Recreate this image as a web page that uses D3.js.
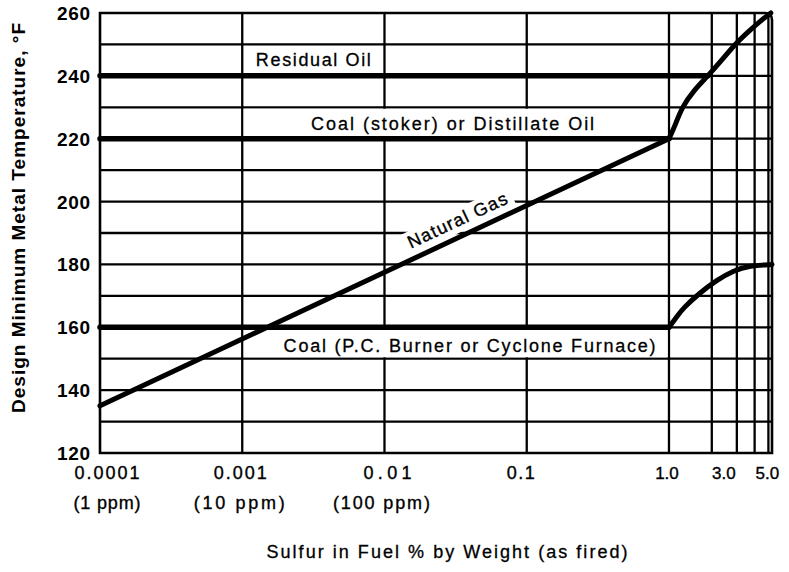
<!DOCTYPE html>
<html>
<head>
<meta charset="utf-8">
<script src="https://cdn.jsdelivr.net/npm/d3@7"></script>
<style>
  html, body { margin: 0; padding: 0; background: #fff; }
  svg { display: block; font-family: "Liberation Sans", Arial, Helvetica, sans-serif; }
</style>
</head>
<body>
<svg id="chart" width="789" height="572"></svg>
<script>
// Sulfur content (% by weight) on a log axis, design temperature in °F
const xMajorTicks = [0.0001, 0.001, 0.01, 0.1, 1.0, 3.0, 5.0];
const xMajorLabels = ["0.0001", "0.001", "0.01", "0.1", "1.0", "3.0", "5.0"];
const ppmTicks = [0.0001, 0.001, 0.01];
const ppmLabels = ["(1 ppm)", "(10 ppm)", "(100 ppm)"];
const xGridValues = [0.001, 0.01, 0.1, 1, 2, 3, 4, 5];
const yLabelTicks = [120, 140, 160, 180, 200, 220, 240, 260];
const yGridValues = [130, 140, 150, 160, 170, 180, 190, 200, 210, 220, 230, 240, 250];

// Fuel curves: [sulfur %, °F]
const naturalGas = [[0.0001, 135], [1.0, 220]];
const residualOil = [[0.0001, 240], [1.88, 240]];
const coalStoker = [[0.0001, 220], [1.0, 220]];
const highSulfurOil = [[1.0, 220], [1.1, 224], [1.23, 230], [1.5, 235.5], [1.88, 240],
                       [2.35, 245], [2.9, 250], [3.6, 254], [4.4, 257.5], [5.2, 260]];
const coalPC = [[0.0001, 160], [1.0, 160]];
const coalPCHigh = [[1.0, 160], [1.12, 163], [1.25, 166], [1.65, 171], [2.17, 175], [2.82, 178],
                    [3.7, 179.6], [5.3, 180]];

const svg = d3.select("#chart");
const plotL = 100, plotR = 772, plotT = 13, plotB = 453;

const x = d3.scaleLog().domain([0.0001, 5.3]).range([plotL, plotR]);
const y = d3.scaleLinear().domain([120, 260]).range([plotB, plotT]);

// Grid
const grid = svg.append("g").attr("stroke", "#000").attr("stroke-width", 2.3).attr("fill", "none");
grid.selectAll("line.h").data(yGridValues).join("line")
  .attr("class", "h")
  .attr("x1", plotL).attr("x2", plotR)
  .attr("y1", d => y(d)).attr("y2", d => y(d));
grid.selectAll("line.v").data(xGridValues).join("line")
  .attr("class", "v")
  .attr("x1", d => x(d)).attr("x2", d => x(d))
  .attr("y1", plotT).attr("y2", plotB);

// Frame with rounded upper-right corner
const r = 7;
grid.append("path")
  .attr("stroke-width", 2.6)
  .attr("d", `M${plotL},${plotT} H${plotR - r} Q${plotR},${plotT} ${plotR},${plotT + r} V${plotB} H${plotL} Z`);

// White label strips between grid lines
const strips = [
  { lo: 220, hi: 230 },
  { lo: 150, hi: 160 }
];
svg.append("g").selectAll("rect").data(strips).join("rect")
  .attr("x", x(0.001) + 1.5)
  .attr("width", x(1.0) - x(0.001) - 3)
  .attr("y", d => y(d.hi) + 1.5)
  .attr("height", d => y(d.lo) - y(d.hi) - 3)
  .attr("fill", "#fff");

// Curves
const line = d3.line().x(d => x(d[0])).y(d => y(d[1]));
const curve = d3.line().x(d => x(d[0])).y(d => y(d[1])).curve(d3.curveBasis);
const marks = svg.append("g").attr("fill", "none").attr("stroke", "#000").attr("stroke-linecap", "round");
[residualOil, coalStoker, coalPC].forEach(s => marks.append("path").attr("d", line(s)).attr("stroke-width", 5.5));
marks.append("path").attr("d", line(naturalGas)).attr("stroke-width", 5);
marks.append("path").attr("d", curve(highSulfurOil)).attr("stroke-width", 5);
marks.append("path").attr("d", curve(coalPCHigh)).attr("stroke-width", 5);

// Text helper: fixed rendered width so the lettering keeps its wide spacing
function fitText(sel, width) {
  return sel.attr("textLength", width).attr("lengthAdjust", "spacing");
}

// In-plot labels
const labels = svg.append("g").attr("font-size", 18).attr("fill", "#000").attr("text-anchor", "middle")
  .attr("stroke", "#000").attr("stroke-width", 0.3);
fitText(labels.append("text").attr("x", (x(0.001) + x(0.01)) / 2).attr("y", y(245) + 6).text("Residual Oil"), 115);
fitText(labels.append("text").attr("x", (x(0.001) + x(1.0)) / 2 - 3).attr("y", y(225) + 7).text("Coal (stoker) or Distillate Oil"), 283);
fitText(labels.append("text").attr("x", (x(0.001) + x(1.0)) / 2 + 14).attr("y", y(155) + 9).text("Coal (P.C. Burner or Cyclone Furnace)"), 372);

// Rotated label along the natural gas line
const p0 = [x(naturalGas[0][0]), y(naturalGas[0][1])];
const p1 = [x(naturalGas[1][0]), y(naturalGas[1][1])];
const angle = Math.atan2(p1[1] - p0[1], p1[0] - p0[0]) * 180 / Math.PI;
const t = 0.64;
const gasG = svg.append("g")
  .attr("transform", `translate(${p0[0] + (p1[0] - p0[0]) * t},${p0[1] + (p1[1] - p0[1]) * t}) rotate(${angle})`);
gasG.append("rect").attr("x", -60).attr("y", -27).attr("width", 120).attr("height", 23).attr("fill", "#fff");
fitText(gasG.append("text").attr("x", 0).attr("y", -10).attr("text-anchor", "middle").attr("font-size", 18)
  .attr("stroke", "#000").attr("stroke-width", 0.35).text("Natural Gas"), 108);

// Y axis labels
const yAxis = svg.append("g").attr("font-size", 19).attr("font-weight", "bold").attr("text-anchor", "end");
yAxis.selectAll("text").data(yLabelTicks).join("text")
  .attr("x", 90).attr("y", d => y(d) + 7).text(d => d)
  .attr("textLength", 33).attr("lengthAdjust", "spacing");

// X axis labels (small nudges keep them clear of the crowded high-sulfur gridlines)
const majorNudge = [7, -2, 3, -6, -2, -13, -1];
const majorSize = [18, 18, 18, 18, 17, 17, 17];
const majorWidth = [65, 53, 48, 28, null, null, null];
const xAxis = svg.append("g").attr("text-anchor", "middle")
  .attr("stroke", "#000").attr("stroke-width", 0.35);
xAxis.selectAll("text.major").data(xMajorTicks).join("text")
  .attr("class", "major")
  .attr("x", (d, i) => x(d) + majorNudge[i])
  .attr("y", 479)
  .attr("font-size", (d, i) => majorSize[i])
  .attr("textLength", (d, i) => majorWidth[i])
  .attr("lengthAdjust", (d, i) => majorWidth[i] ? "spacing" : null)
  .text((d, i) => xMajorLabels[i]);
const ppmNudge = [7, -3, -3];
const ppmWidth = [67, 91, 97];
xAxis.selectAll("text.ppm").data(ppmTicks).join("text")
  .attr("class", "ppm")
  .attr("x", (d, i) => x(d) + ppmNudge[i])
  .attr("y", 509)
  .attr("font-size", 18)
  .attr("textLength", (d, i) => ppmWidth[i]).attr("lengthAdjust", "spacing")
  .text((d, i) => ppmLabels[i]);

// Axis titles
fitText(svg.append("text").attr("x", 447).attr("y", 558).attr("text-anchor", "middle").attr("font-size", 18)
  .attr("stroke", "#000").attr("stroke-width", 0.3)
  .text("Sulfur in Fuel % by Weight (as fired)"), 361);
fitText(svg.append("text").attr("transform", `translate(25,218) rotate(-90)`).attr("text-anchor", "middle")
  .attr("font-size", 19).attr("font-weight", "bold")
  .text("Design Minimum Metal Temperature, °F"), 390);
</script>
</body>
</html>
